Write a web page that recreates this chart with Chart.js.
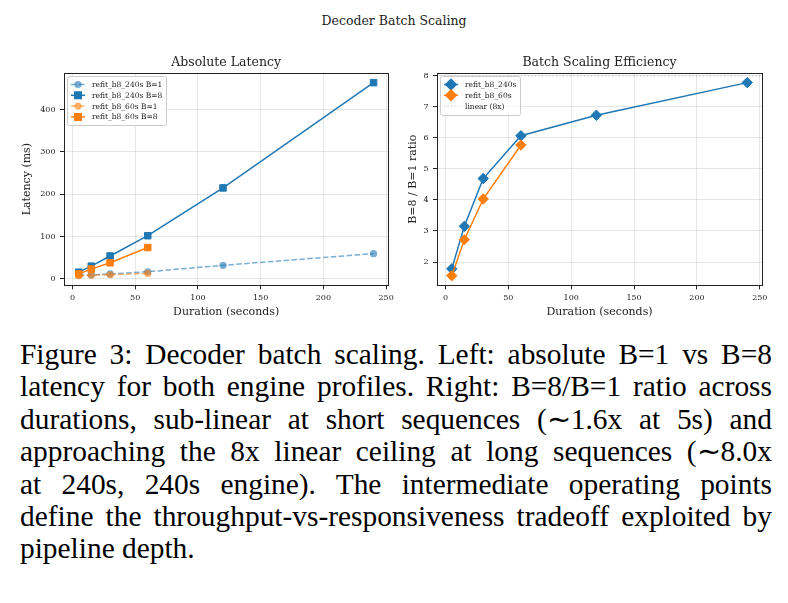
<!DOCTYPE html>
<html>
<head>
<meta charset="utf-8">
<script src="https://cdn.jsdelivr.net/npm/chart.js@4.4.1/dist/chart.umd.min.js"></script>
<style>
  body { margin: 0; background: #fff; width: 788px; height: 603px; position: relative; overflow: hidden; }
  canvas { position: absolute; }
  #suptitle { position: absolute; left: 0; top: 13px; width: 788px; text-align: center; font: 12.5px/15px "DejaVu Serif"; color: #222; }
  #caption { position: absolute; left: 20px; top: 338px; width: 752px; font: 29.4px/32.4px "Liberation Serif", "Times New Roman", serif; color: #000; }
  #caption div { text-align: justify; text-align-last: justify; }
  #caption div.last { text-align-last: left; }
</style>
</head>
<body>
<div id="suptitle">Decoder Batch Scaling</div>
<canvas id="latency" width="398" height="267" style="left:0px; top:55px"></canvas>
<canvas id="ratio" width="372" height="267" style="left:400px; top:55px"></canvas>
<div id="caption">
  <div>Figure 3: Decoder batch scaling. Left: absolute B=1 vs B=8</div>
  <div>latency for both engine profiles. Right: B=8/B=1 ratio across</div>
  <div>durations, sub-linear at short sequences (∼1.6x at 5s) and</div>
  <div>approaching the 8x linear ceiling at long sequences (∼8.0x</div>
  <div>at 240s, 240s engine). The intermediate operating points</div>
  <div>define the throughput-vs-responsiveness tradeoff exploited by</div>
  <div class="last">pipeline depth.</div>
</div>
<script>
// data
const durations = [5, 15, 30, 60, 120, 240];      // refit_b8_240s engine
const durations60 = [5, 15, 30, 60];              // refit_b8_60s engine
const lat240B1 = [8.8, 9.5, 11.5, 16.8, 32, 59.6];
const lat240B8 = [15.7, 30, 54, 102, 215, 464];
const lat60B1 = [7.5, 8.5, 9.5, 12.8];
const lat60B8 = [11.7, 23, 38, 74];
const ratio240 = [1.78, 3.15, 4.69, 6.07, 6.73, 7.78];
const ratio60 = [1.56, 2.72, 4.03, 5.77];
const linearCeiling = 8;

const xTicks = [0, 50, 100, 150, 200, 250];
const latTicks = [0, 100, 200, 300, 400];
const ratioTicks = [2, 3, 4, 5, 6, 7, 8];
const xRange = [-6.75, 251.75];
const latRange = [-15.3, 486.8];
const ratioRange = [1.25, 8.09];

const BLUE = '#1f77b4', ORANGE = '#ff7f0e';
const BLUE_A = 'rgba(31,119,180,0.6)', ORANGE_A = 'rgba(255,127,14,0.6)';
const INK = '#222';
const GRID = 'rgba(176,176,176,0.3)';

Chart.defaults.font.family = '"DejaVu Serif"';
Chart.defaults.color = INK;

const pts = (xs, ys) => xs.map((x, i) => ({ x: x, y: ys[i] }));

// frame (all four spines) plus a matplotlib style legend box drawn on top
const boxLegend = {
  id: 'boxLegend',
  afterDatasetsDraw(chart) {
    const ctx = chart.ctx, ca = chart.chartArea;
    ctx.save();
    ctx.strokeStyle = INK;
    ctx.lineWidth = 1;
    const l = Math.round(ca.left), t = Math.round(ca.top);
    ctx.strokeRect(l + 0.5, t + 0.5, Math.round(ca.right) - l, Math.round(ca.bottom) - t);

    const items = chart.data.datasets;
    ctx.font = '7.5px "DejaVu Serif"';
    const textW = Math.max(...items.map(d => ctx.measureText(d.label).width));
    const x0 = l + 3, y0 = t + 2.5, step = 10.8;
    const w = 25 + textW + 4, h = 17 + (items.length - 1) * step;
    ctx.fillStyle = 'rgba(255,255,255,0.8)';
    ctx.strokeStyle = '#cccccc';
    ctx.beginPath();
    ctx.roundRect(Math.round(x0) + 0.5, Math.round(y0) + 0.5, Math.round(w), Math.round(h), 2);
    ctx.fill();
    ctx.stroke();

    items.forEach((d, i) => {
      const cy = y0 + 9 + i * step;
      ctx.strokeStyle = d.borderColor;
      ctx.lineWidth = d.borderWidth;
      ctx.setLineDash(d.borderDash || []);
      ctx.beginPath();
      ctx.moveTo(x0 + 4, cy);
      ctx.lineTo(x0 + 18, cy);
      ctx.stroke();
      ctx.setLineDash([]);
      if (d.pointRadius > 0) {
        ctx.fillStyle = d.pointBackgroundColor;
        ctx.strokeStyle = d.pointBorderColor;
        Chart.helpers.drawPoint(ctx, { pointStyle: d.pointStyle, radius: d.pointRadius, borderWidth: d.pointBorderWidth, rotation: 0 }, x0 + 11, cy);
      }
      ctx.fillStyle = INK;
      ctx.textBaseline = 'middle';
      ctx.textAlign = 'left';
      ctx.fillText(d.label, x0 + 25, cy + 0.5);
    });
    ctx.restore();
  }
};

function series(label, xs, ys, color, style, radius, dashed, order) {
  return {
    label: label,
    data: pts(xs, ys),
    borderColor: color,
    backgroundColor: color,
    pointBackgroundColor: color,
    pointBorderColor: color,
    pointBorderWidth: dashed ? 0 : 1,
    borderWidth: 1.5,
    borderDash: dashed ? [5.5, 2.4] : [],
    pointStyle: style,
    pointRadius: radius,
    order: order
  };
}

function xScale() {
  return {
    type: 'linear',
    min: xRange[0],
    max: xRange[1],
    afterBuildTicks: s => { s.ticks = xTicks.map(v => ({ value: v })); },
    afterFit: s => { s.height = 36.7; },
    grid: { color: GRID, tickColor: INK, tickLength: 4 },
    border: { display: false },
    ticks: { font: { size: 8 }, color: INK, padding: 4.2, maxRotation: 0, autoSkip: false },
    title: { display: true, text: 'Duration (seconds)', font: { size: 11 }, color: INK, padding: { top: 0, bottom: 3.7 } }
  };
}

function yScale(range, ticks, title, width, titlePad) {
  return {
    type: 'linear',
    min: range[0],
    max: range[1],
    afterBuildTicks: s => { s.ticks = ticks.map(v => ({ value: v })); },
    afterFit: s => { s.width = width; },
    grid: { color: GRID, tickColor: INK, tickLength: 4 },
    border: { display: false },
    ticks: { font: { size: 8 }, color: INK, padding: 4.5, autoSkip: false },
    title: { display: true, text: title, font: { size: 11 }, color: INK, padding: { top: titlePad, bottom: 0 } }
  };
}

function options(title, yCfg, rightPad) {
  return {
    responsive: false,
    animation: false,
    layout: { padding: { left: 0, right: rightPad, top: 0, bottom: 0 } },
    plugins: {
      legend: { display: false },
      tooltip: { enabled: false },
      title: { display: true, fullSize: false, text: title, color: INK, font: { size: 12.5, weight: 'normal' }, padding: { top: 0, bottom: 3 } }
    },
    scales: { x: xScale(), y: yCfg }
  };
}

new Chart(document.getElementById('latency'), {
  type: 'line',
  data: {
    datasets: [
      series('refit_b8_240s B=1', durations, lat240B1, BLUE_A, 'circle', 3.6, true, 4),
      series('refit_b8_240s B=8', durations, lat240B8, BLUE, 'rect', 4.6, false, 3),
      series('refit_b8_60s B=1', durations60, lat60B1, ORANGE_A, 'circle', 3.6, true, 2),
      series('refit_b8_60s B=8', durations60, lat60B8, ORANGE, 'rect', 4.6, false, 1)
    ]
  },
  options: options('Absolute Latency', yScale(latRange, latTicks, 'Latency (ms)', 64, 20.1), 9),
  plugins: [boxLegend]
});

const ceiling = {
  label: 'linear (8x)',
  data: pts(xRange, xRange.map(() => linearCeiling)),
  borderColor: 'rgba(128,128,128,0.55)',
  borderWidth: 1,
  borderDash: [1, 2.5],
  pointRadius: 0,
  order: 1
};

new Chart(document.getElementById('ratio'), {
  type: 'line',
  data: {
    datasets: [
      series('refit_b8_240s', durations, ratio240, BLUE, 'rectRot', 5.2, false, 3),
      series('refit_b8_60s', durations60, ratio60, ORANGE, 'rectRot', 5.2, false, 2),
      ceiling
    ]
  },
  options: options('Batch Scaling Efficiency', yScale(ratioRange, ratioTicks, 'B=8 / B=1 ratio', 37, 6.1), 10),
  plugins: [boxLegend]
});
</script>
</body>
</html>
